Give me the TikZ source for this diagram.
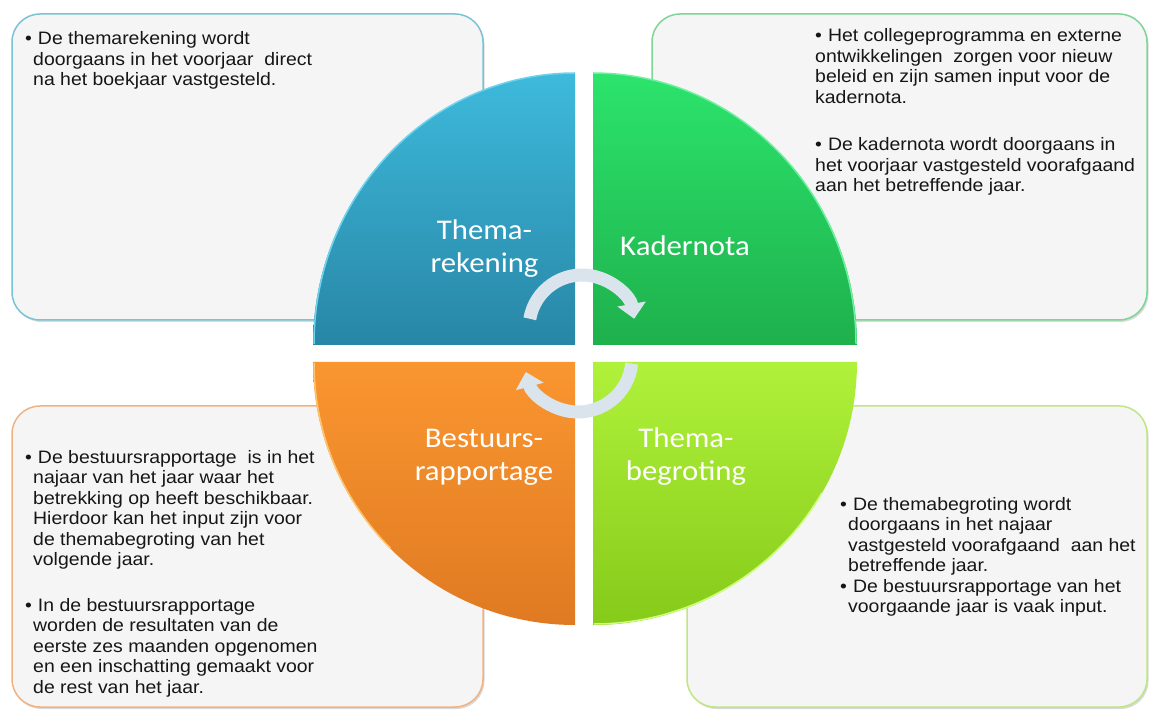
\documentclass[tikz,border=0pt]{standalone}
\usepackage{fontspec}
\setmainfont{Liberation Sans}[FakeStretch=1.08]
\newfontfamily\kwartfont{Carlito}[FakeStretch=1.08]
\usepackage{xcolor}
\usepackage{tikz}
\usetikzlibrary{arrows.meta}
\usetikzlibrary{shadows}

\definecolor{kaderfill}{RGB}{245,245,245}
\definecolor{randblauw}{RGB}{120,196,212}
\definecolor{randgroen}{RGB}{125,214,150}
\definecolor{randoranje}{RGB}{242,178,128}
\definecolor{randlime}{RGB}{190,230,130}
\definecolor{blauwtop}{RGB}{62,186,220}
\definecolor{blauwbodem}{RGB}{40,134,166}
\definecolor{blauwrim}{RGB}{110,212,238}
\definecolor{groentop}{RGB}{44,228,108}
\definecolor{groenbodem}{RGB}{30,176,76}
\definecolor{groenrim}{RGB}{110,240,160}
\definecolor{oranjetop}{RGB}{250,150,48}
\definecolor{oranjebodem}{RGB}{224,122,34}
\definecolor{oranjerim}{RGB}{255,196,110}
\definecolor{limetop}{RGB}{176,242,58}
\definecolor{limebodem}{RGB}{134,202,26}
\definecolor{limerim}{RGB}{206,255,120}
\definecolor{pijlkleur}{RGB}{218,228,237}
\definecolor{tekstkleur}{RGB}{22,22,22}

\begin{document}
\begin{tikzpicture}[x=1pt,y=1pt,
  kader/.style={rounded corners=28pt, line width=1.5pt, fill=kaderfill,
    drop shadow={shadow xshift=1.5pt,shadow yshift=-2pt,opacity=0.3}},
  boxtekst/.style={anchor=base west, align=left, inner sep=0pt, text=tekstkleur,
    font=\fontsize{18}{20.5}\selectfont},
  kwarttekst/.style={anchor=base, align=center, inner sep=0pt, text=white,
    font=\kwartfont\fontsize{28.5}{33}\selectfont},
  pijl/.style={line width=13pt, color=pijlkleur, -{Triangle[width=28pt,length=15pt]}}]
\useasboundingbox (0,0) rectangle (1149,713);

%% kaders
\draw[kader, draw=randblauw] (12,393) rectangle (483,699);
\draw[kader, draw=randgroen] (652,393) rectangle (1147,699);
\draw[kader, draw=randoranje] (12,6) rectangle (483,307);
\draw[kader, draw=randlime] (687,6) rectangle (1147,307);

%% kwarten van de cirkel
\shade[top color=blauwtop, bottom color=blauwbodem] (575,368) -- (313,368)
  arc[start angle=180, end angle=90, x radius=262, y radius=272] -- cycle;
\draw[blauwrim, line width=1.5pt] (314,369) arc[start angle=180, end angle=90, x radius=261, y radius=271];
\shade[top color=groentop, bottom color=groenbodem] (593,368) -- (593,640)
  arc[start angle=90, end angle=0, x radius=264, y radius=272] -- cycle;
\draw[groenrim, line width=1.5pt] (856,369) arc[start angle=0, end angle=90, x radius=263, y radius=271];
\shade[top color=oranjetop, bottom color=oranjebodem] (575,351) -- (313,351)
  arc[start angle=180, end angle=270, x radius=262, y radius=263] -- cycle;
\draw[oranjerim, line width=1.5pt] (314,350) arc[start angle=180, end angle=225, x radius=261, y radius=262];
\shade[top color=limetop, bottom color=limebodem] (593,351) -- (857,351)
  arc[start angle=0, end angle=-90, x radius=264, y radius=263] -- cycle;
\draw[limerim, line width=1.5pt] (594,89) arc[start angle=-90, end angle=-30, x radius=263, y radius=262];

%% (base = laatste regel)
\node[kwarttekst] (rekening) at (484.5,440) {Thema-\\rekening};
\node[kwarttekst] (kadernota) at (685,457) {Kadernota};
\node[kwarttekst] (bestuurs) at (484,233) {Bestuurs-\\rapportage};
\node[kwarttekst] (begroting) at (686,233) {Thema-\\begroting};

%% pijlen in het midden
\coordinate (spilboven) at (582,385);
\coordinate (spilonder) at (578,355);
\draw[pijl] ([shift={(170:53)}]spilboven) arc[start angle=170, end angle=10, radius=53];
\draw[pijl] ([shift={(-6:54)}]spilonder) arc[start angle=-6, end angle=-165, radius=54];

%% teksten
\node[boxtekst] (rektxt) at (25,627) {•\hspace{6pt}De themarekening wordt\\
  \hspace*{8pt}doorgaans in het voorjaar\ \ direct\\
  \hspace*{8pt}na het boekjaar vastgesteld.};
\node[boxtekst] (kadtxta) at (815,609.5) {•\hspace{6pt}Het collegeprogramma en externe\\
  ontwikkelingen\ \ zorgen voor nieuw\\
  beleid en zijn samen input voor de\\
  kadernota.};
\node[boxtekst] (kadtxtb) at (815,521) {•\hspace{6pt}De kadernota wordt doorgaans in\\
  het voorjaar vastgesteld voorafgaand\\
  aan het betreffende jaar.};
\node[boxtekst] (bestxta) at (25,147.5) {•\hspace{6pt}De bestuursrapportage\ \ is in het\\
  \hspace*{8pt}najaar van het jaar waar het\\
  \hspace*{8pt}betrekking op heeft beschikbaar.\\
  \hspace*{8pt}Hierdoor kan het input zijn voor\\
  \hspace*{8pt}de themabegroting van het\\
  \hspace*{8pt}volgende jaar.};
\node[boxtekst] (bestxtb) at (25,20) {•\hspace{6pt}In de bestuursrapportage\\
  \hspace*{8pt}worden de resultaten van de\\
  \hspace*{8pt}eerste zes maanden opgenomen\\
  \hspace*{8pt}en een inschatting gemaakt voor\\
  \hspace*{8pt}de rest van het jaar.};
\node[boxtekst] (begtxta) at (840,141.5) {•\hspace{6pt}De themabegroting wordt\\
  \hspace*{8pt}doorgaans in het najaar\\
  \hspace*{8pt}vastgesteld voorafgaand\ \ aan het\\
  \hspace*{8pt}betreffende jaar.};
\node[boxtekst] (begtxtb) at (840,100.5) {•\hspace{6pt}De bestuursrapportage van het\\
  \hspace*{8pt}voorgaande jaar is vaak input.};
\end{tikzpicture}
\end{document}
